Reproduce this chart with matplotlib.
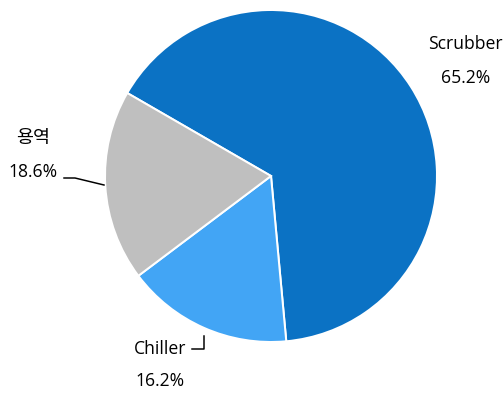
import matplotlib.pyplot as plt

# données du graphique
labels = ['Scrubber', 'Chiller', '용역']
values = [65.2, 16.2, 18.6]
colors = ['#0B72C4', '#42A5F5', '#BFBFBF']

plt.rcParams['font.family'] = ['Open Sans', 'Noto Sans CJK KR', 'DejaVu Sans']

H = 396
fig = plt.figure(figsize=(7, 5.5), dpi=72)
ax = fig.add_axes([0, 0, 1, 1])

# camembert en coordonnées pixels (origine en bas)
ax.pie(values, colors=colors, startangle=150, counterclock=False,
       center=(271, H - 176), radius=166,
       wedgeprops=dict(edgecolor='white', linewidth=2))
ax.set_xlim(0, 504)
ax.set_ylim(0, H)
ax.set_aspect('equal')
ax.axis('off')

fs = 17.5
# étiquettes
ax.text(465, H - 44, labels[0], ha='center', va='center', fontsize=fs)
ax.text(466, H - 78, f'{values[0]}%', ha='center', va='center', fontsize=fs)

ax.text(33, H - 138, labels[2], ha='center', va='center', fontsize=fs + 1)
ax.text(33, H - 172, f'{values[2]}%', ha='center', va='center', fontsize=fs)
ax.plot([64, 75, 104], [H - 178, H - 178, H - 185], color='black', lw=1.5)

ax.text(160, H - 349, labels[1], ha='center', va='center', fontsize=fs)
ax.text(160, H - 381, f'{values[1]}%', ha='center', va='center', fontsize=fs)
ax.plot([192, 204, 204], [H - 349, H - 349, H - 336], color='black', lw=1.5)

plt.savefig('out.png', dpi=72)
